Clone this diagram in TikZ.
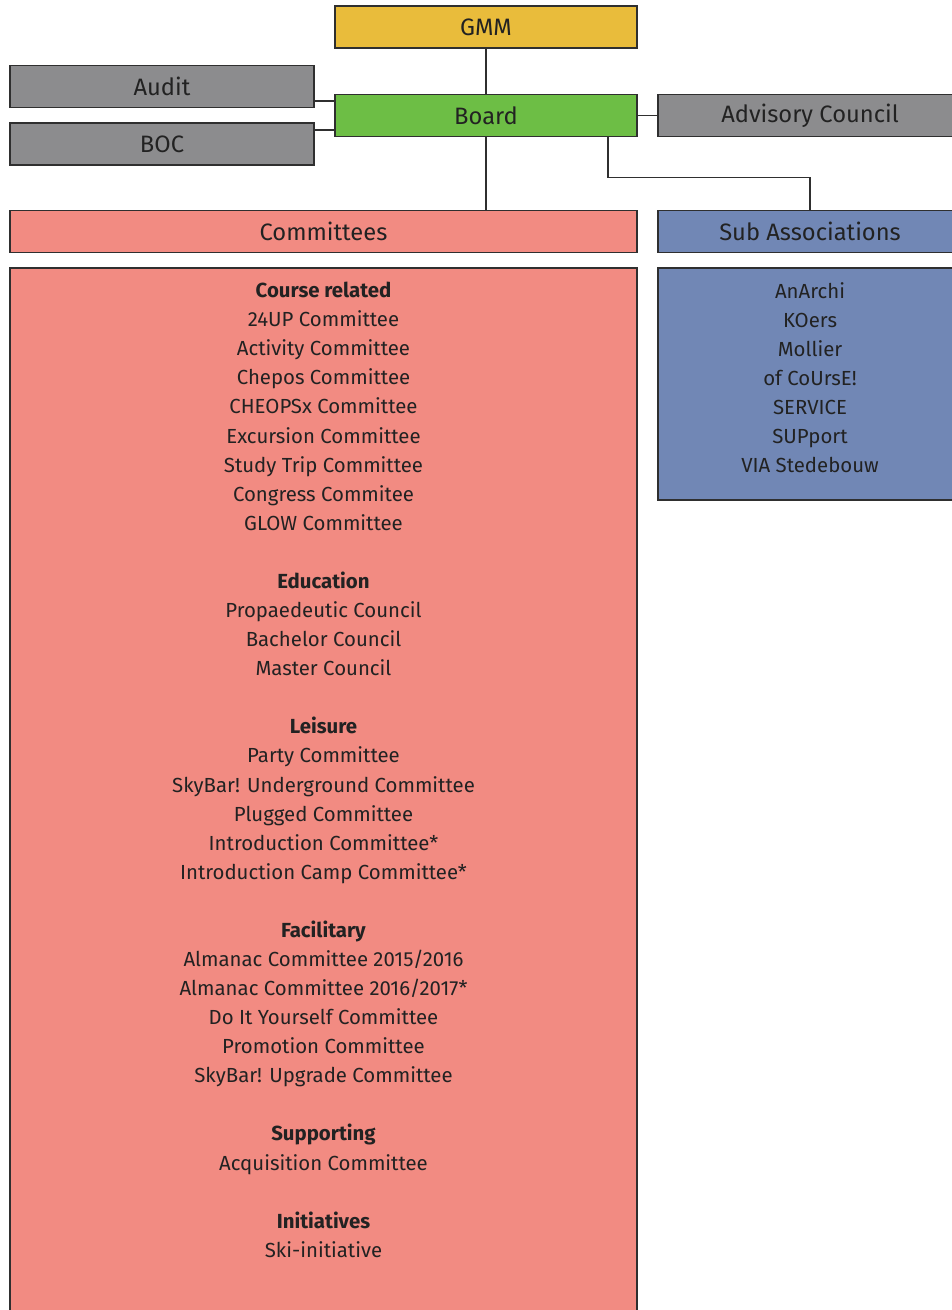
\documentclass[tikz,border=0pt]{standalone}
\usepackage{fontspec}
\setmainfont{Fira Sans}
\usetikzlibrary{positioning}
\definecolor{gmmcol}{HTML}{E9BC3B}
\definecolor{boardcol}{HTML}{6DBE45}
\definecolor{sidecol}{HTML}{8C8C8E}
\definecolor{comcol}{HTML}{F28B82}
\definecolor{subcol}{HTML}{7187B5}
\definecolor{edgecol}{HTML}{2F2F2F}
\definecolor{textcol}{HTML}{222222}
\tikzset{
    orgbox/.style={draw=edgecol, line width=0.85pt, inner sep=0pt,
        minimum height=0.84cm, text=textcol,
        font=\fontsize{13.5}{15}\selectfont},
    listtext/.style={align=center, inner sep=0pt, text=textcol,
        font=\fontsize{11.6}{16.55}\selectfont},
    link/.style={draw=edgecol, line width=0.7pt}
}
\begin{document}
\begin{tikzpicture}[x=0.02cm, y=-0.02cm]
    \useasboundingbox (0,0) rectangle (952,1310);
    \clip (0,0) rectangle (952,1310);
    \def\wide{6.04cm}
    \def\side{6.08cm}
    % top of the tree
    \node [orgbox, fill=gmmcol, minimum width=\wide] (gmm) at (486,27) {GMM};
    \node [orgbox, fill=boardcol, minimum width=\wide] (board) at (486,115.5) {Board};
    \node [orgbox, fill=sidecol, minimum width=\side] (audit) at (162,86.5) {Audit};
    \node [orgbox, fill=sidecol, minimum width=\side] (boc) at (162,144) {BOC};
    \node [orgbox, fill=sidecol, minimum width=\side] (advisory) at (810,115.5) {Advisory Council};
    % the two branches
    \node [orgbox, fill=comcol, minimum width=12.54cm] (committees) at (323.5,231.5) {Committees};
    \node [orgbox, fill=subcol, minimum width=\side] (subassoc) at (810,231.5) {Sub Associations};
    \node [orgbox, fill=comcol, minimum width=12.54cm, minimum height=21.1cm] (comlist) at (323.5,795.5) {};
    \node [orgbox, fill=subcol, minimum width=\side, minimum height=4.64cm] (sublist) at (810,384) {};
    \node [listtext, anchor=north, yshift=-0.29cm] (comtext) at (comlist.north) {%
        \textbf{Course related}\\
        24UP Committee\\
        Activity Committee\\
        Chepos Committee\\
        CHEOPSx Committee\\
        Excursion Committee\\
        Study Trip Committee\\
        Congress Commitee\\
        GLOW Committee\\[16.55pt]
        \textbf{Education}\\
        Propaedeutic Council\\
        Bachelor Council\\
        Master Council\\[16.55pt]
        \textbf{Leisure}\\
        Party Committee\\
        SkyBar! Underground Committee\\
        Plugged Committee\\
        Introduction Committee*\\
        Introduction Camp Committee*\\[16.55pt]
        \textbf{Facilitary}\\
        Almanac Committee 2015/2016\\
        Almanac Committee 2016/2017*\\
        Do It Yourself Committee\\
        Promotion Committee\\
        SkyBar! Upgrade Committee\\[16.55pt]
        \textbf{Supporting}\\
        Acquisition Committee\\[16.55pt]
        \textbf{Initiatives}\\
        Ski-initiative};
    \node [listtext, anchor=north, yshift=-0.29cm] (subtext) at (sublist.north) {%
        AnArchi\\
        KOers\\
        Mollier\\
        of CoUrsE!\\
        SERVICE\\
        SUPport\\
        VIA Stedebouw};
    % connectors
    \draw [link] (gmm) -- (board);
    \draw [link] (board.south) -- (board.south |- committees.north);
    \draw [link] (board) -- (advisory);
    \draw [link] ([yshift=-0.29cm]audit.east) -- ([yshift=-0.29cm]audit.east -| board.west);
    \draw [link] ([yshift=0.28cm]boc.east) -- ([yshift=0.28cm]boc.east -| board.west);
    \draw [link] ([xshift=2.44cm]board.south) -- ++(0,40) -| (subassoc.north);
\end{tikzpicture}
\end{document}
